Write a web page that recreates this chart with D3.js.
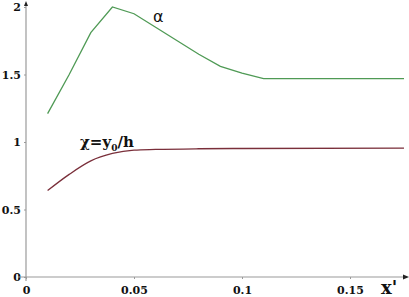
<!DOCTYPE html>
<html>
<head>
<meta charset="utf-8">
<script src="https://cdn.jsdelivr.net/npm/d3@7/dist/d3.min.js"></script>
<style>
  body { margin: 0; background: #fff; }
  svg { display: block; }
</style>
</head>
<body>
<svg id="chart" width="409" height="297"></svg>
<script>
var xAlpha = [0.01, 0.02, 0.03, 0.04, 0.05, 0.06, 0.07, 0.08, 0.09, 0.1, 0.11, 0.175];
var alpha = [1.21, 1.5, 1.81, 2.0, 1.95, 1.85, 1.75, 1.65, 1.56, 1.51, 1.47, 1.47];
var xChi = [0.01, 0.02, 0.03, 0.04, 0.05, 0.06, 0.08, 0.1, 0.175];
var chi = [0.64, 0.76, 0.86, 0.915, 0.94, 0.945, 0.95, 0.952, 0.955];
var xTicks = [0, 0.05, 0.1, 0.15];
var xTickLabels = ['0', '0.05', '0.1', '0.15'];
var yTicks = [0, 0.5, 1, 1.5, 2];
var yTickLabels = ['0', '0.5', '1', '1.5', '2'];

var serif = 'DejaVu Serif';
var svg = d3.select('#chart');
var x = d3.scaleLinear().domain([0, 0.175]).range([26, 404]);
var y = d3.scaleLinear().domain([0, 2]).range([277, 7]);

var axisColor = '#9a9a9a';

var xAxis = svg.append('g')
  .attr('transform', 'translate(0,' + y(0) + ')')
  .call(d3.axisBottom(x).tickValues(xTicks).tickSize(2).tickSizeOuter(0)
    .tickFormat(function (d, i) { return xTickLabels[i]; }));
xAxis.attr('font-family', serif).attr('font-weight', 'bold').attr('font-size', 11);
xAxis.select('.domain').remove();
xAxis.selectAll('line').attr('stroke', axisColor);
xAxis.selectAll('text').attr('fill', '#111').attr('dy', '1.05em');

var yAxis = svg.append('g')
  .attr('transform', 'translate(' + x(0) + ',0)')
  .call(d3.axisLeft(y).tickValues(yTicks).tickSize(2).tickSizeOuter(0)
    .tickFormat(function (d, i) { return yTickLabels[i]; }));
yAxis.attr('font-family', serif).attr('font-weight', 'bold').attr('font-size', 11);
yAxis.select('.domain').remove();
yAxis.selectAll('line').attr('stroke', axisColor);
yAxis.selectAll('text').attr('fill', '#111').attr('x', -5);

// axis lines with arrow heads
svg.append('line').attr('x1', x(0) - 8).attr('x2', 406).attr('y1', y(0)).attr('y2', y(0))
  .attr('stroke', axisColor).attr('stroke-width', 1.2);
svg.append('path').attr('d', 'M409,' + y(0) + ' l-6,-2.5 l0,5 z').attr('fill', '#222');
svg.append('line').attr('x1', x(0)).attr('x2', x(0)).attr('y1', y(0) + 4).attr('y2', 3)
  .attr('stroke', axisColor).attr('stroke-width', 1.2);
svg.append('path').attr('d', 'M' + x(0) + ',1 l-2,5 l4,0 z').attr('fill', '#222');

var line = d3.line().x(function (d) { return x(d[0]); }).y(function (d) { return y(d[1]); });

svg.append('path')
  .datum(d3.zip(xAlpha, alpha))
  .attr('d', line)
  .attr('fill', 'none')
  .attr('stroke', '#4f9a55')
  .attr('stroke-width', 1.3);

svg.append('path')
  .datum(d3.zip(xChi, chi))
  .attr('d', line.curve(d3.curveMonotoneX))
  .attr('fill', 'none')
  .attr('stroke', '#7a2f3a')
  .attr('stroke-width', 1.3);

svg.append('text').attr('x', 153).attr('y', 22)
  .attr('font-family', 'DejaVu Sans').attr('font-size', 16).attr('fill', '#111')
  .text('α');

var chiLabel = svg.append('text').attr('x', 80).attr('y', 147)
  .attr('font-family', serif).attr('font-weight', 'bold').attr('font-size', 15).attr('fill', '#111');
chiLabel.append('tspan').text('χ=y');
chiLabel.append('tspan').attr('dy', 4).attr('font-size', 9).text('0');
chiLabel.append('tspan').attr('dy', -4).text('/h');

svg.append('text').attr('x', 381).attr('y', 294)
  .attr('font-family', serif).attr('font-weight', 'bold').attr('font-size', 18).attr('fill', '#111')
  .text("x'");
</script>
</body>
</html>
